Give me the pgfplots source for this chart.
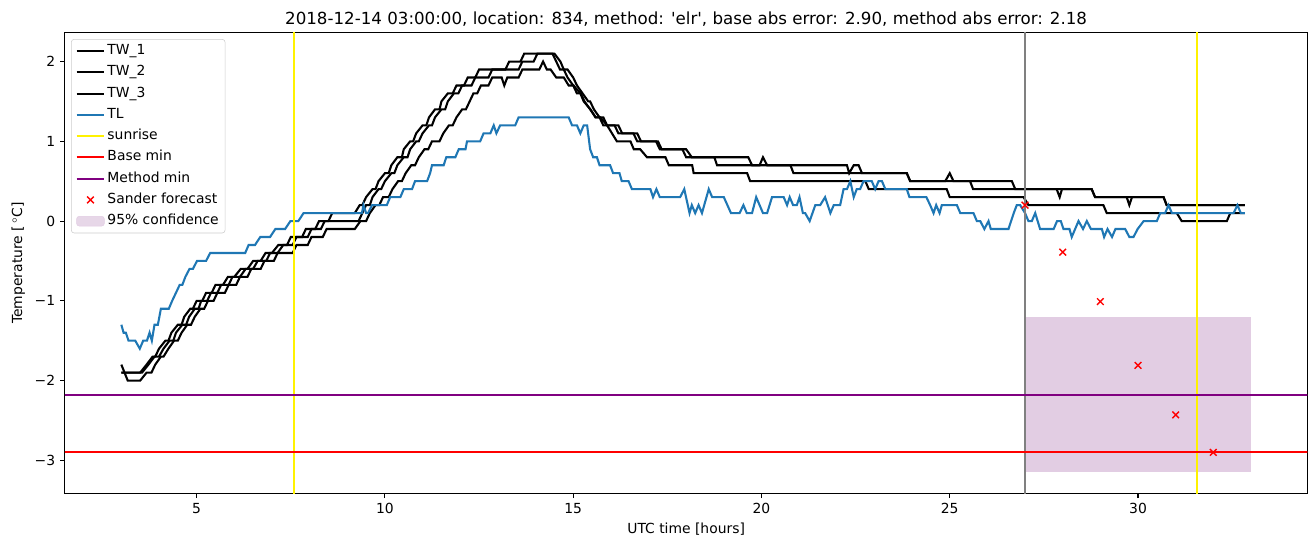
\documentclass[border=0pt]{standalone}
\usepackage{fontspec}
\setmainfont{DejaVu Sans}
\usepackage{pgfplots}
\pgfplotsset{compat=1.18}
\definecolor{tlblue}{RGB}{31,119,180}
\definecolor{conf}{RGB}{226,205,227}
\definecolor{mpurple}{RGB}{128,0,128}

\begin{document}
\begin{tikzpicture}
\begin{axis}[
    width=894.6pt, height=331.6pt, scale only axis,
    xmin=1.5, xmax=34.5, ymin=-3.4125, ymax=2.3625,
    xtick={5,10,15,20,25,30},
    xticklabels={5,10,15,20,25,30},
    ytick={-3,-2,-1,0,1,2},
    yticklabels={−3,−2,−1,0,1,2},
    tick align=outside, tick pos=left,
    major tick length=3.5pt,
    every tick/.style={black, line width=0.8pt},
    axis line style={line width=0.8pt},
    xlabel={UTC time [hours]},
    ylabel={Temperature [\,$^\circ$C]},
    title={2018-12-14 03:00:00, location: 834, method: \textquotesingle elr\textquotesingle, base abs error: 2.90, method abs error: 2.18},
    title style={at={(0.5,1)}, anchor=base, yshift=0pt, font=\fontsize{12}{14}\selectfont},
    legend style={at={(0.005,0.986)}, anchor=north west, draw=black!20, rounded corners=2pt,
        fill=white, fill opacity=0.8, text opacity=1, inner xsep=3pt, inner ysep=2pt,
        nodes={inner sep=1.5pt, text height=7.5pt, text depth=2.5pt}, row sep=2.3pt},
    legend cell align=left,
    legend image code/.code={\draw[mark repeat=2,mark phase=2,#1] plot coordinates {(0pt,0pt)(10pt,0pt)(20pt,0pt)};},
]

% 95% confidence band
\addplot[fill=conf, draw=none, forget plot] coordinates {(27,-3.15) (33,-3.15) (33,-1.2) (27,-1.2)};

% TW_1
\addplot[black, line width=1.5pt] coordinates {
(3.0,-1.9)(3.5,-1.9)(3.67,-1.8)(3.83,-1.7)(3.9,-1.7)(4.0,-1.6)(4.17,-1.5)(4.25,-1.5)(4.33,-1.4)(4.5,-1.3)(4.6,-1.3)(4.67,-1.2)(4.83,-1.1)(4.9,-1.1)(5.0,-1.0)(5.15,-1.0)(5.25,-0.9)(5.4,-0.9)(5.5,-0.8)(5.7,-0.8)(5.83,-0.7)(6.0,-0.7)(6.17,-0.6)(6.35,-0.6)(6.5,-0.5)(6.7,-0.5)(6.83,-0.4)(7.0,-0.4)(7.17,-0.3)(7.4,-0.3)(7.5,-0.2)(7.8,-0.2)(7.9,-0.1)(8.15,-0.1)(8.25,0.0)(8.5,0.0)(8.6,0.1)(9.2,0.1)(9.33,0.2)(9.4,0.2)(9.5,0.3)(9.67,0.4)(9.75,0.4)(9.83,0.5)(10.0,0.6)(10.1,0.6)(10.17,0.7)(10.33,0.8)(10.45,0.8)(10.5,0.9)(10.67,1.0)(10.75,1.0)(10.83,1.1)(11.0,1.2)(11.1,1.2)(11.17,1.3)(11.33,1.4)(11.45,1.4)(11.5,1.5)(11.67,1.6)(11.8,1.6)(11.9,1.7)(12.1,1.7)(12.2,1.8)(12.4,1.8)(12.5,1.9)(13.2,1.9)(13.3,2.0)(13.6,2.0)(13.7,2.1)(14.5,2.1)
(14.66,2.0)(14.75,1.9)(14.85,1.9)(15.0,1.8)(15.1,1.7)(15.25,1.6)(15.4,1.5)(15.45,1.5)(15.55,1.4)(15.7,1.3)(15.8,1.3)(15.9,1.2)(16.2,1.2)(16.3,1.1)(16.7,1.1)(16.8,1.0)(17.25,1.0)(17.35,0.9)(18.0,0.9)(18.15,0.8)(19.65,0.8)(19.75,0.7)(19.95,0.7)(20.04,0.8)(20.15,0.7)(22.27,0.7)(22.33,0.6)(22.45,0.7)(22.58,0.7)(22.67,0.6)(23.86,0.6)(23.95,0.5)(24.88,0.5)(25.0,0.6)(25.1,0.5)(26.65,0.5)(26.74,0.4)(27.84,0.4)(27.92,0.3)(27.98,0.4)(28.77,0.4)(28.86,0.3)(29.7,0.3)(29.77,0.2)(29.84,0.3)(30.68,0.3)(30.76,0.2)(32.84,0.2)
};
\addlegendentry{TW\_1}

% TW_2
\addplot[black, line width=1.5pt] coordinates {
(3.0,-1.9)(3.55,-1.9)(3.72,-1.8)(3.88,-1.7)(4.0,-1.7)(4.12,-1.6)(4.28,-1.5)(4.38,-1.5)(4.45,-1.4)(4.62,-1.3)(4.72,-1.3)(4.8,-1.2)(4.95,-1.1)(5.05,-1.1)(5.12,-1.0)(5.28,-1.0)(5.38,-0.9)(5.55,-0.9)(5.65,-0.8)(5.85,-0.8)(5.95,-0.7)(6.15,-0.7)(6.3,-0.6)(6.5,-0.6)(6.62,-0.5)(6.85,-0.5)(6.95,-0.4)(7.15,-0.4)(7.3,-0.3)(7.55,-0.3)(7.65,-0.2)(7.95,-0.2)(8.05,-0.1)(8.3,-0.1)(8.4,0.0)(9.3,0.0)(9.4,0.1)(9.5,0.2)(9.6,0.2)(9.67,0.3)(9.83,0.4)(9.9,0.4)(10.0,0.5)(10.17,0.6)(10.25,0.6)(10.33,0.7)(10.5,0.8)(10.6,0.8)(10.67,0.9)(10.83,1.0)(10.9,1.0)(11.0,1.1)(11.17,1.2)(11.25,1.2)(11.33,1.3)(11.5,1.4)(11.6,1.4)(11.67,1.5)(11.83,1.6)(11.95,1.6)(12.05,1.7)(12.3,1.7)(12.4,1.8)(12.75,1.8)(12.85,1.9)(13.55,1.9)(13.65,2.0)(13.95,2.0)(14.05,2.1)(14.45,2.1)
(14.55,2.0)(14.65,1.9)(14.75,1.9)(14.85,1.8)(15.0,1.7)(15.1,1.6)(15.2,1.6)(15.3,1.5)(15.45,1.4)(15.6,1.3)(15.7,1.3)(15.8,1.2)(16.1,1.2)(16.2,1.1)(16.6,1.1)(16.7,1.0)(17.2,1.0)(17.3,0.9)(17.9,0.9)(18.0,0.8)(18.75,0.8)(18.82,0.7)(20.77,0.7)(20.85,0.6)(23.86,0.6)(23.95,0.5)(25.54,0.5)(25.62,0.4)(28.77,0.4)(28.86,0.3)(30.68,0.3)(30.76,0.2)(32.84,0.2)
};
\addlegendentry{TW\_2}

% TW_3
\addplot[black, line width=1.5pt] coordinates {
(3.0,-1.8)(3.17,-2.0)(3.5,-2.0)(3.67,-1.9)(3.8,-1.9)(3.9,-1.8)(4.05,-1.7)(4.12,-1.7)(4.25,-1.6)(4.4,-1.5)(4.5,-1.5)(4.6,-1.4)(4.75,-1.3)(4.85,-1.3)(4.95,-1.2)(5.1,-1.1)(5.2,-1.1)(5.3,-1.0)(5.45,-1.0)(5.55,-0.9)(5.75,-0.9)(5.85,-0.8)(6.05,-0.8)(6.15,-0.7)(6.35,-0.7)(6.45,-0.6)(6.7,-0.6)(6.8,-0.5)(7.05,-0.5)(7.15,-0.4)(7.55,-0.4)(7.65,-0.3)(7.95,-0.3)(8.05,-0.2)(8.35,-0.2)(8.45,-0.1)(9.2,-0.1)(9.35,0.0)(9.5,0.0)(9.6,0.1)(9.75,0.2)(9.85,0.2)(9.95,0.3)(10.1,0.3)(10.2,0.4)(10.35,0.5)(10.45,0.5)(10.55,0.6)(10.7,0.7)(10.8,0.7)(10.9,0.8)(11.05,0.9)(11.15,0.9)(11.25,1.0)(11.45,1.0)(11.55,1.1)(11.7,1.2)(11.8,1.2)(11.9,1.3)(12.05,1.4)(12.15,1.4)(12.25,1.5)(12.35,1.6)(12.45,1.6)(12.55,1.7)(12.75,1.7)(12.85,1.8)(13.1,1.8)(13.17,1.7)(13.25,1.8)(13.55,1.8)(13.65,1.9)(14.1,1.9)(14.2,2.0)(14.3,1.9)(14.4,1.9)
(14.55,1.8)(14.75,1.8)(14.88,1.7)(15.01,1.7)(15.19,1.6)(15.28,1.5)(15.46,1.4)(15.59,1.3)(15.72,1.3)(15.9,1.2)(16.03,1.1)(16.16,1.0)(16.52,1.0)(16.61,0.9)(16.78,0.9)(16.96,0.8)(17.45,0.8)(17.54,0.7)(18.16,0.7)(18.2,0.6)(19.62,0.6)(19.7,0.5)(22.76,0.5)(22.85,0.4)(24.92,0.4)(25.0,0.3)(26.96,0.3)(27.09,0.2)(29.08,0.2)(29.17,0.1)(31.03,0.1)(31.16,0.0)(32.36,0.0)(32.45,0.1)(32.84,0.1)
};
\addlegendentry{TW\_3}

% TL
\addplot[tlblue, line width=1.5pt] coordinates {
(3.0,-1.3)(3.06,-1.4)(3.12,-1.4)(3.19,-1.5)(3.37,-1.5)(3.49,-1.6)(3.58,-1.5)(3.68,-1.5)(3.75,-1.4)(3.81,-1.5)(3.88,-1.3)(3.97,-1.3)(4.05,-1.1)(4.26,-1.1)(4.35,-1.0)(4.45,-0.9)(4.55,-0.8)(4.62,-0.8)(4.7,-0.7)(4.81,-0.6)(4.9,-0.6)(5.01,-0.5)(5.25,-0.5)(5.36,-0.4)(6.29,-0.4)(6.38,-0.3)(6.55,-0.3)(6.69,-0.2)(6.95,-0.2)(7.09,-0.1)(7.35,-0.1)(7.49,0.0)(7.7,0.0)(7.84,0.1)(9.39,0.1)(9.43,0.2)(9.5,0.1)(9.55,0.1)(9.66,0.2)(10.05,0.2)(10.14,0.3)(10.41,0.3)(10.5,0.4)(10.72,0.4)(10.8,0.5)(11.12,0.5)(11.2,0.6)(11.25,0.7)(11.56,0.7)(11.63,0.8)(11.87,0.8)(11.96,0.9)(12.14,0.9)(12.18,1.0)(12.53,1.0)(12.62,1.1)(12.8,1.1)(12.89,1.2)(12.96,1.1)(13.06,1.2)(13.46,1.2)(13.55,1.3)(14.88,1.3)(14.97,1.2)(15.1,1.2)(15.19,1.1)(15.28,1.2)(15.37,1.2)(15.45,0.9)(15.53,0.8)(15.63,0.8)(15.7,0.7)(15.98,0.7)(16.06,0.6)(16.23,0.6)(16.29,0.5)(16.47,0.5)(16.56,0.4)(17.05,0.4)(17.12,0.3)(17.21,0.4)(17.3,0.3)(17.84,0.3)(17.95,0.4)(18.09,0.1)(18.15,0.2)(18.24,0.1)(18.33,0.2)(18.42,0.1)(18.6,0.4)(18.69,0.3)(19.0,0.3)(19.19,0.1)(19.42,0.1)(19.52,0.2)(19.61,0.1)(19.75,0.1)(19.86,0.3)(20.04,0.1)(20.15,0.1)(20.28,0.3)(20.59,0.3)(20.68,0.2)(20.75,0.3)(20.84,0.2)(20.94,0.2)(21.01,0.3)(21.1,0.1)(21.16,0.1)(21.28,0.0)(21.43,0.2)(21.56,0.2)(21.69,0.3)(21.83,0.1)(21.92,0.2)(22.09,0.2)(22.18,0.4)(22.27,0.4)(22.36,0.5)(22.45,0.3)(22.53,0.4)(22.62,0.4)(22.71,0.5)(22.93,0.5)(23.02,0.4)(23.11,0.5)(23.2,0.5)(23.29,0.4)(23.86,0.4)(23.93,0.3)(24.38,0.3)(24.48,0.2)(24.57,0.1)(24.64,0.2)(24.73,0.1)(24.79,0.2)(25.19,0.2)(25.28,0.1)(25.63,0.1)(25.72,0.0)(25.81,0.0)(25.92,-0.1)(26.03,0.0)(26.09,-0.1)(26.56,-0.1)(26.7,0.1)(26.78,0.2)(26.87,0.2)(27.0,0.1)(27.09,0.0)(27.18,0.0)(27.27,0.1)(27.4,-0.1)(27.76,-0.1)(27.85,0.0)(27.95,0.0)(28.02,-0.1)(28.18,-0.1)(28.24,-0.2)(28.33,-0.1)(28.42,0.0)(28.54,-0.1)(28.64,0.0)(28.75,-0.1)(29.04,-0.1)(29.1,-0.2)(29.19,-0.1)(29.31,-0.2)(29.4,-0.1)(29.66,-0.1)(29.77,-0.2)(29.88,-0.2)(29.99,-0.1)(30.15,0.0)(30.5,0.0)(30.59,0.1)(30.72,0.1)(30.81,0.2)(30.9,0.1)(32.54,0.1)(32.64,0.2)(32.73,0.1)(32.84,0.1)
};
\addlegendentry{TL}

% sunrise
\addplot[yellow, line width=1.5pt] coordinates {(7.58,-3.6) (7.58,2.6)};
\addlegendentry{sunrise}
\addplot[yellow, line width=1.5pt, forget plot] coordinates {(31.56,-3.6) (31.56,2.6)};

% forecast start
\addplot[gray, line width=1.5pt, forget plot] coordinates {(27,-3.6) (27,2.6)};

% minima
\addplot[red, line width=1.5pt] coordinates {(1,-2.90) (35,-2.90)};
\addlegendentry{Base min}
\addplot[mpurple, line width=1.5pt] coordinates {(1,-2.18) (35,-2.18)};
\addlegendentry{Method min}

% forecast
\addplot[red, only marks, mark=x, mark size=3.4pt, mark options={line width=1pt}] coordinates {
(27,0.2)(28,-0.39)(29,-1.01)(30,-1.81)(31,-2.43)(32,-2.90)};
\addlegendentry{Sander forecast}

\addlegendimage{legend image code/.code={\fill[conf] (0pt,-3.5pt) rectangle (20pt,3.5pt);}}
\addlegendentry{95\% confidence}

\coordinate (sw) at (rel axis cs:0,0);
\coordinate (ne) at (rel axis cs:1,1);
\end{axis}
\pgfresetboundingbox
\path (sw) ++(-46.7pt,-38.7pt) coordinate (bl);
\path (ne) ++(4pt,23.5pt) coordinate (tr);
\path (bl) rectangle (tr);
\end{tikzpicture}
\end{document}
